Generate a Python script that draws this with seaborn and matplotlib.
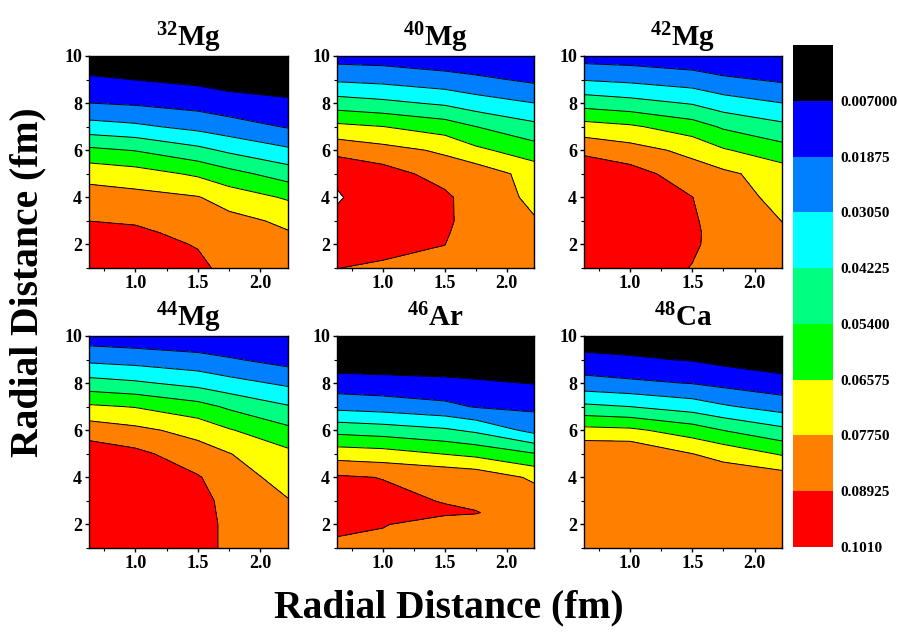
import numpy as np
import matplotlib
matplotlib.use("Agg")
import matplotlib.pyplot as plt
import seaborn as sns
from matplotlib.ticker import MultipleLocator

# grid: radial distance columns (x) and rows (y)
xs = [0.63, 1.0, 1.5, 1.75, 2.22]
ys = [1, 2, 2.5, 3, 4, 5, 6, 7, 8, 9, 10]

# density values, one row per y (bottom to top), one column per x
mg32 = [
    [0.0998, 0.0990, 0.0928, 0.0846, 0.0834],
    [0.0960, 0.0950, 0.0883, 0.0834, 0.0810],
    [0.0925, 0.0915, 0.0857, 0.0822, 0.0781],
    [0.0892, 0.0880, 0.0833, 0.0810, 0.0753],
    [0.0824, 0.0811, 0.0781, 0.0724, 0.0643],
    [0.0736, 0.0708, 0.0639, 0.0579, 0.0485],
    [0.0566, 0.0535, 0.0454, 0.0401, 0.0324],
    [0.0351, 0.0327, 0.0272, 0.0237, 0.0179],
    [0.0188, 0.0173, 0.0144, 0.0119, 0.0091],
    [0.0085, 0.0068, 0.0043, 0.0019, 0.0003],
    [0.0, 0.0, 0.0, 0.0, 0.0],
]
mg40 = [
    [0.0894, 0.0875, 0.0846, 0.0799, 0.0810],
    [0.0951, 0.0928, 0.0894, 0.0810, 0.0799],
    [0.0975, 0.0945, 0.0910, 0.0810, 0.0789],
    [0.0998, 0.0963, 0.0928, 0.0810, 0.0781],
    [0.1016, 0.0975, 0.0918, 0.0828, 0.0757],
    [0.0998, 0.0945, 0.0842, 0.0844, 0.0729],
    [0.0854, 0.0814, 0.0757, 0.0683, 0.0594],
    [0.0686, 0.0659, 0.0601, 0.0541, 0.0454],
    [0.0477, 0.0450, 0.0404, 0.0358, 0.0306],
    [0.0287, 0.0271, 0.0235, 0.0213, 0.0165],
    [0.0135, 0.0129, 0.0103, 0.0083, 0.0082],
]
mg42 = [
    [0.0987, 0.0963, 0.0888, 0.0857, 0.0804],
    [0.0987, 0.0963, 0.0908, 0.0851, 0.0793],
    [0.0987, 0.0963, 0.0910, 0.0851, 0.0783],
    [0.0987, 0.0963, 0.0908, 0.0836, 0.0774],
    [0.0992, 0.0963, 0.0894, 0.0822, 0.0746],
    [0.0998, 0.0940, 0.0829, 0.0799, 0.0719],
    [0.0861, 0.0820, 0.0744, 0.0669, 0.0586],
    [0.0705, 0.0675, 0.0595, 0.0524, 0.0452],
    [0.0493, 0.0464, 0.0413, 0.0358, 0.0306],
    [0.0298, 0.0279, 0.0244, 0.0209, 0.0170],
    [0.0135, 0.0126, 0.0103, 0.0076, 0.0082],
]
mg44 = [
    [0.0987, 0.0963, 0.0922, 0.0876, 0.0810],
    [0.0987, 0.0963, 0.0922, 0.0876, 0.0799],
    [0.0987, 0.0963, 0.0918, 0.0874, 0.0789],
    [0.0987, 0.0963, 0.0916, 0.0871, 0.0781],
    [0.0987, 0.0963, 0.0901, 0.0834, 0.0728],
    [0.0958, 0.0921, 0.0827, 0.0779, 0.0686],
    [0.0841, 0.0803, 0.0735, 0.0667, 0.0567],
    [0.0676, 0.0652, 0.0583, 0.0521, 0.0432],
    [0.0467, 0.0440, 0.0386, 0.0345, 0.0284],
    [0.0278, 0.0260, 0.0229, 0.0199, 0.0144],
    [0.0123, 0.0109, 0.0091, 0.0076, 0.0082],
]
ar46 = [
    [0.0871, 0.0857, 0.0822, 0.0828, 0.0810],
    [0.0916, 0.0899, 0.0840, 0.0846, 0.0822],
    [0.0928, 0.0916, 0.0910, 0.0898, 0.0828],
    [0.0928, 0.0922, 0.0887, 0.0869, 0.0834],
    [0.0908, 0.0889, 0.0870, 0.0852, 0.0756],
    [0.0723, 0.0707, 0.0653, 0.0626, 0.0547],
    [0.0501, 0.0480, 0.0440, 0.0400, 0.0269],
    [0.0270, 0.0253, 0.0217, 0.0180, 0.0164],
    [0.0121, 0.0109, 0.0095, 0.0084, 0.0066],
    [0.0, 0.0, 0.0, 0.0, 0.0],
    [0.0, 0.0, 0.0, 0.0, 0.0],
]
ca48 = [
    [0.0857, 0.0857, 0.0857, 0.0857, 0.0851],
    [0.0863, 0.0863, 0.0851, 0.0851, 0.0846],
    [0.0869, 0.0869, 0.0848, 0.0851, 0.0843],
    [0.0869, 0.0869, 0.0846, 0.0851, 0.0840],
    [0.0875, 0.0875, 0.0828, 0.0846, 0.0829],
    [0.0881, 0.0881, 0.0776, 0.0736, 0.0645],
    [0.0693, 0.0681, 0.0600, 0.0538, 0.0452],
    [0.0448, 0.0423, 0.0367, 0.0320, 0.0256],
    [0.0232, 0.0210, 0.0183, 0.0156, 0.0115],
    [0.0102, 0.0085, 0.0062, 0.0037, 0.0],
    [0.0, 0.0, 0.0, 0.0, 0.0],
]

panels = [("32", "Mg", mg32), ("40", "Mg", mg40), ("42", "Mg", mg42),
          ("44", "Mg", mg44), ("46", "Ar", ar46), ("48", "Ca", ca48)]

levels = [0.0, 0.007, 0.01875, 0.0305, 0.04225, 0.054, 0.06575, 0.0775, 0.08925, 0.101]
level_labels = ["0.007000", "0.01875", "0.03050", "0.04225", "0.05400",
                "0.06575", "0.07750", "0.08925", "0.1010"]
band_colors = ["#000000", "#0000ff", "#0080ff", "#00ffff", "#00ff80",
               "#00ff00", "#ffff00", "#ff8000", "#ff0000"]

sns.set_theme(style="ticks")
plt.rcParams["font.family"] = ["Liberation Serif", "DejaVu Serif"]
plt.rcParams["font.weight"] = "bold"
plt.rcParams["text.color"] = "black"
plt.rcParams["axes.labelcolor"] = "black"
plt.rcParams["xtick.color"] = "black"
plt.rcParams["ytick.color"] = "black"
plt.rcParams["mathtext.fontset"] = "custom"
plt.rcParams["mathtext.rm"] = "Liberation Serif:bold"
plt.rcParams["mathtext.default"] = "rm"

fig = plt.figure(figsize=(8.98, 6.32), dpi=100)
W, H = 898, 632
lefts = [89, 337, 584]
widths = [199, 197, 198]
tops = [56, 336]
ph = 212

cs = None
for i, (mass, elem, z) in enumerate(panels):
    r, c = divmod(i, 3)
    ax = fig.add_axes([lefts[c] / W, 1 - (tops[r] + ph) / H, widths[c] / W, ph / H])
    Z = np.array(z)
    cs = ax.contourf(xs, ys, Z, levels=levels, colors=band_colors)
    ax.contour(xs, ys, Z, levels=levels[1:], colors="black", linewidths=0.7)
    ax.set_xlim(0.63, 2.22)
    ax.set_ylim(1, 10)
    ax.xaxis.set_minor_locator(MultipleLocator(0.25))
    ax.yaxis.set_minor_locator(MultipleLocator(1))
    ax.set_xticks([1.0, 1.5, 2.0])
    ax.set_xticklabels(["1.0", "1.5", "2.0"])
    ax.set_yticks([2, 4, 6, 8, 10])
    ax.tick_params(which="major", direction="out", length=3, width=1,
                   labelsize=13, pad=2, colors="black")
    ax.tick_params(which="minor", direction="out", length=2, width=0.8)
    for sp in ax.spines.values():
        sp.set_linewidth(1.0)
        sp.set_color("black")
    ax.set_title(r"$^{%s}$%s" % (mass, elem), fontsize=21, fontweight="bold",
                 pad=7, color="black")

# colour bar, low values at the top
cax = fig.add_axes([793 / W, 1 - 547 / H, 40 / W, 502 / H])
cb = fig.colorbar(cs, cax=cax)
cb.ax.invert_yaxis()
cb.set_ticks(levels[1:])
cb.set_ticklabels(level_labels)
cb.ax.tick_params(length=0, labelsize=11, pad=5, colors="black")
cb.outline.set_visible(False)

fig.text(0.5, 1 - 608 / H, "Radial Distance (fm)", ha="center", va="center",
         fontsize=28.5, fontweight="bold", color="black")
fig.text(28 / W, 1 - 282 / H, "Radial Distance (fm)", ha="center", va="center",
         rotation=90, fontsize=28.5, fontweight="bold", color="black")

fig.savefig("out.png", dpi=100)
